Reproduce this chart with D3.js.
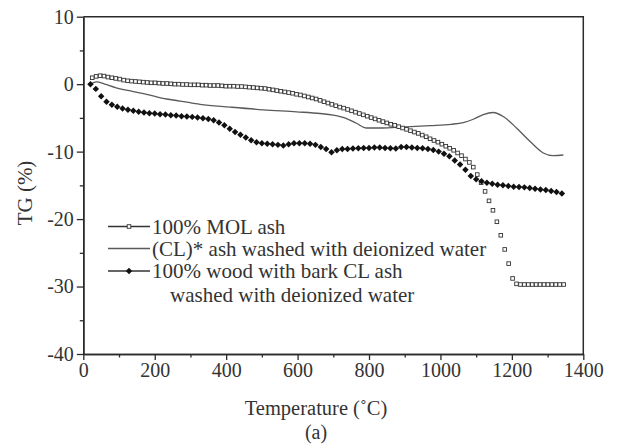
<!DOCTYPE html>
<html>
<head>
<meta charset="utf-8">
<script src="https://cdn.jsdelivr.net/npm/d3@7"></script>
<style>
  body { margin: 0; background: #fff; }
  svg { display: block; font-family: "Liberation Serif", "Times New Roman", serif; }
</style>
</head>
<body>
<script>
// ---- data ----
const xTicks = [0, 200, 400, 600, 800, 1000, 1200, 1400];
const xMinor = [100, 300, 500, 700, 900, 1100, 1300];
const yTicks = [10, 0, -10, -20, -30, -40];
const yMinor = [5, -5, -15, -25, -35];

// 100% MOL ash (open squares)
const molTemp = [25, 36, 47, 58, 69, 80, 91, 102, 113, 124, 135, 146, 157, 168, 179, 190, 201, 212, 223, 234,
  245, 256, 267, 278, 289, 300, 311, 322, 333, 344, 355, 366, 377, 388, 399, 410, 421, 432, 443, 454,
  465, 476, 487, 498, 509, 520, 531, 542, 553, 564, 575, 586, 597, 608, 619, 630, 641, 652, 663, 674,
  685, 696, 707, 718, 729, 740, 751, 762, 773, 784, 795, 806, 817, 828, 839, 850, 861, 872, 883, 894,
  905, 916, 927, 938, 949, 960, 971, 982, 993, 1004, 1015, 1026, 1037, 1048, 1059, 1070, 1081, 1092, 1103, 1114,
  1125, 1136, 1147, 1158, 1169, 1180, 1191, 1202, 1213, 1224, 1235, 1246, 1257, 1268, 1279, 1290, 1301, 1312, 1323, 1334,
  1345];
const molTG = [0.95, 1.15, 1.25, 1.2, 1.05, 0.95, 0.85, 0.75, 0.6, 0.5,
  0.45, 0.4, 0.35, 0.3, 0.25, 0.2, 0.2, 0.15, 0.1, 0.1,
  0.05, 0, 0, -0.05, -0.05, -0.1, -0.1, -0.1, -0.15, -0.15,
  -0.2, -0.2, -0.2, -0.25, -0.3, -0.3, -0.3, -0.35, -0.35, -0.4,
  -0.45, -0.5, -0.55, -0.6, -0.65, -0.75, -0.85, -0.95, -1.05, -1.15,
  -1.25, -1.35, -1.5, -1.6, -1.75, -1.9, -2.05, -2.2, -2.4, -2.6,
  -2.8, -3.0, -3.2, -3.4, -3.55, -3.75, -3.95, -4.15, -4.35, -4.55,
  -4.75, -4.95, -5.15, -5.35, -5.55, -5.75, -5.95, -6.1, -6.3, -6.5,
  -6.7, -6.9, -7.1, -7.3, -7.55, -7.8, -8.1, -8.35, -8.6, -8.9,
  -9.2, -9.5, -9.8, -10.2, -10.6, -11.1, -11.6, -12.3, -13.4, -14.6,
  -15.9, -17.3, -18.7, -20.4, -22.4, -24.5, -26.6, -28.8, -29.6, -29.7,
  -29.7, -29.7, -29.7, -29.7, -29.7, -29.7, -29.7, -29.7, -29.7, -29.7,
  -29.7];

// (CL)* ash washed with deionized water (thin line)
const clTemp = [20, 37, 60, 90, 140, 177, 233, 271, 327, 411, 504, 597, 663, 700, 737, 765, 793, 831,
  877, 971, 1030, 1064, 1092, 1120, 1148, 1176, 1213, 1251, 1288, 1316, 1344];
const clTG = [0, 0.35, 0.0, -0.5, -1.1, -1.5, -2.2, -2.5, -3.0, -3.4, -3.8, -4.1, -4.35, -4.6, -5.1, -5.8, -6.5, -6.5,
  -6.4, -6.15, -5.95, -5.7, -5.2, -4.5, -4.2, -4.8, -6.5, -8.5, -10.2, -10.6, -10.5];

// 100% wood with bark CL ash washed with deionized water (filled diamonds)
const woodTemp = [20, 35, 50, 65, 80, 95, 110, 125, 140, 155, 170, 185, 200, 215, 230, 245, 260, 275, 290, 305,
  320, 335, 350, 365, 380, 395, 410, 425, 440, 455, 470, 485, 500, 515, 530, 545, 560, 575, 590, 605,
  620, 635, 650, 665, 680, 695, 710, 725, 740, 755, 770, 785, 800, 815, 830, 845, 860, 875, 890, 905,
  920, 935, 950, 965, 980, 995, 1010, 1025, 1040, 1055, 1070, 1085, 1100, 1115, 1130, 1145, 1160, 1175, 1190, 1205,
  1220, 1235, 1250, 1265, 1280, 1295, 1310, 1325, 1340];
const woodTG = [0.0, -0.7, -1.8, -2.6, -3.05, -3.35, -3.6, -3.8, -3.95, -4.1,
  -4.2, -4.3, -4.35, -4.45, -4.5, -4.6, -4.65, -4.75, -4.8, -4.85,
  -4.95, -5.05, -5.15, -5.35, -5.7, -6.1, -6.6, -7.1, -7.5, -7.9,
  -8.3, -8.6, -8.75, -8.85, -8.9, -9.0, -9.1, -8.9, -8.75, -8.75,
  -8.75, -8.85, -9.0, -9.3, -9.6, -10.1, -9.8, -9.6, -9.6, -9.55,
  -9.5, -9.45, -9.45, -9.4, -9.4, -9.45, -9.5, -9.55, -9.3, -9.3,
  -9.4, -9.45, -9.5, -9.6, -9.75, -10.0, -10.3, -10.7, -11.3, -11.9,
  -12.7, -13.6, -14.1, -14.4, -14.6, -14.75, -14.9, -15.0, -15.1, -15.2,
  -15.25, -15.3, -15.4, -15.5, -15.6, -15.7, -15.85, -16.0, -16.2];

const legendLabels = ["100% MOL ash", "(CL)* ash washed with deionized water",
  "100% wood with bark CL ash", "washed with deionized water"];

// ---- drawing ----
const width = 618, height = 448;
const ink = "#2b2b2b";
const serif = "'Liberation Serif', 'Times New Roman', serif";

const svg = d3.select("body").append("svg")
  .attr("width", width)
  .attr("height", height);

svg.append("rect").attr("width", width).attr("height", height).attr("fill", "#fff");

const x = d3.scaleLinear().domain([0, 1400]).range([83.3, 583.3]);
const y = d3.scaleLinear().domain([-40, 10]).range([354, 16.7]);

// frame (top and right)
svg.append("path")
  .attr("d", `M${x(0)},${y(10)}H${x(1400)}V${y(-40)}`)
  .attr("fill", "none")
  .attr("stroke", ink)
  .attr("stroke-width", 1.5);

function styleAxis(g) {
  g.attr("font-family", null);
  g.selectAll("path.domain").attr("stroke", ink).attr("stroke-width", 1.5);
  g.selectAll(".tick line").attr("stroke", ink).attr("stroke-width", 1.3);
  g.selectAll(".tick text").attr("fill", "#333").attr("font-size", 20)
    .style("font-family", serif);
}

// x axis
svg.append("g")
  .attr("transform", `translate(0,${y(-40)})`)
  .call(d3.axisBottom(x).tickValues(xMinor).tickSize(3.5).tickSizeOuter(0).tickFormat(""))
  .call(styleAxis);
svg.append("g")
  .attr("transform", `translate(0,${y(-40)})`)
  .call(d3.axisBottom(x).tickValues(xTicks).tickSize(6).tickSizeOuter(0).tickPadding(3).tickFormat(d => String(d)))
  .call(styleAxis);

// y axis
svg.append("g")
  .attr("transform", `translate(${x(0)},0)`)
  .call(d3.axisLeft(y).tickValues(yMinor).tickSize(3.5).tickSizeOuter(0).tickFormat(""))
  .call(styleAxis);
svg.append("g")
  .attr("transform", `translate(${x(0)},0)`)
  .call(d3.axisLeft(y).tickValues(yTicks).tickSize(6.5).tickSizeOuter(0).tickPadding(3).tickFormat(d => String(d)))
  .call(styleAxis);

// axis titles
svg.append("text")
  .attr("x", 316).attr("y", 415)
  .attr("text-anchor", "middle")
  .attr("font-size", 20.5)
  .attr("fill", "#333")
  .style("font-family", serif)
  .text("Temperature (˚C)");
svg.append("text")
  .attr("x", 316).attr("y", 439)
  .attr("text-anchor", "middle")
  .attr("font-size", 20)
  .attr("fill", "#333")
  .style("font-family", serif)
  .text("(a)");

svg.append("text")
  .attr("transform", "translate(32,193) rotate(-90)")
  .attr("text-anchor", "middle")
  .attr("font-size", 21)
  .attr("fill", "#333")
  .style("font-family", serif)
  .text("TG (%)");

// series
const plot = svg.append("g");

const clData = clTemp.map((t, i) => [t, clTG[i]]);
plot.append("path")
  .datum(clData)
  .attr("fill", "none")
  .attr("stroke", "#5a5a5a")
  .attr("stroke-width", 1.3)
  .attr("d", d3.line().x(d => x(d[0])).y(d => y(d[1])).curve(d3.curveMonotoneX));

const sq = 3.6;
plot.selectAll("rect.mol")
  .data(molTemp.map((t, i) => [t, molTG[i]]))
  .join("rect")
  .attr("class", "mol")
  .attr("x", d => x(d[0]) - sq / 2)
  .attr("y", d => y(d[1]) - sq / 2)
  .attr("width", sq)
  .attr("height", sq)
  .attr("fill", "#fff")
  .attr("stroke", "#333")
  .attr("stroke-width", 0.9);

const diamond = d3.symbol().type(d3.symbolSquare).size(21);
plot.selectAll("path.wood")
  .data(woodTemp.map((t, i) => [t, woodTG[i]]))
  .join("path")
  .attr("class", "wood")
  .attr("transform", d => `translate(${x(d[0])},${y(d[1])}) rotate(45)`)
  .attr("d", diamond)
  .attr("fill", "#111");

// legend
const leg = svg.append("g").attr("font-size", 21).attr("fill", "#333").style("font-family", serif);
const rowY = [226.5, 248.5, 271];
const lx0 = 108, lx1 = 150, tx = 152;

rowY.forEach((ry, i) => {
  leg.append("line")
    .attr("x1", lx0).attr("x2", lx1).attr("y1", ry).attr("y2", ry)
    .attr("stroke", i === 1 ? "#5a5a5a" : "#333")
    .attr("stroke-width", 1.3);
  leg.append("text").attr("x", tx).attr("y", ry + 7).text(legendLabels[i]);
});
leg.append("text").attr("x", 170).attr("y", 301.5).text(legendLabels[3]);

leg.append("rect")
  .attr("x", (lx0 + lx1) / 2 - sq / 2).attr("y", rowY[0] - sq / 2)
  .attr("width", sq).attr("height", sq)
  .attr("fill", "#fff").attr("stroke", "#333").attr("stroke-width", 0.9);
leg.append("path")
  .attr("transform", `translate(${(lx0 + lx1) / 2},${rowY[2]}) rotate(45)`)
  .attr("d", diamond)
  .attr("fill", "#111");
</script>
</body>
</html>
